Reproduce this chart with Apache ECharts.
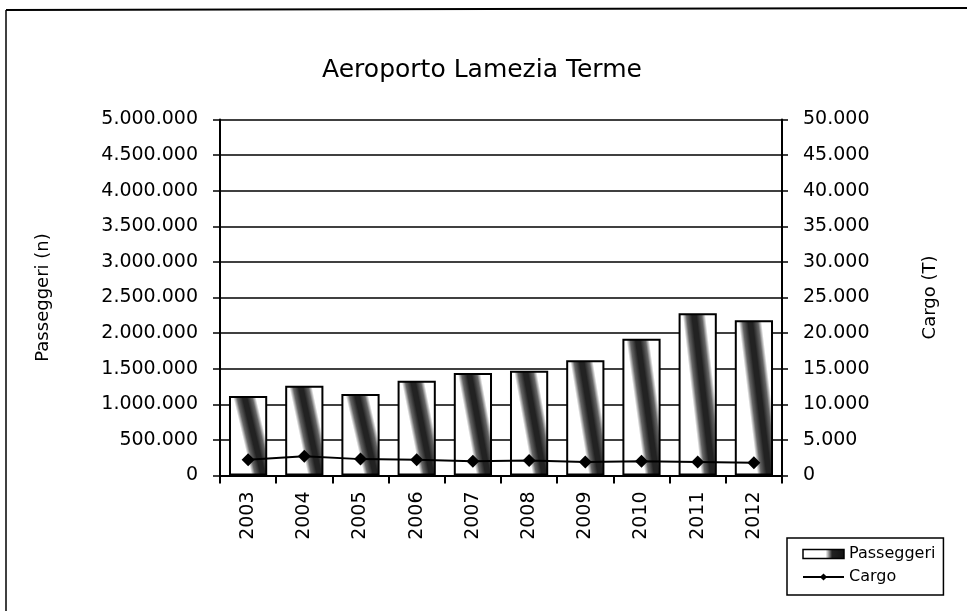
<!DOCTYPE html>
<html>
<head>
<meta charset="utf-8">
<script src="https://cdn.jsdelivr.net/npm/echarts@6/dist/echarts.min.js"></script>
<style>html,body{margin:0;padding:0;background:#fff;}#c{width:967px;height:611px;}</style>
</head>
<body>
<div id="c"></div>
<script>
const years = ['2003','2004','2005','2006','2007','2008','2009','2010','2011','2012'];
const passeggeri = [1117000,1260000,1145000,1330000,1440000,1470000,1620000,1920000,2280000,2180000];
const cargo = [2200,2700,2300,2200,2000,2100,1900,2000,1900,1800];
const leftTicks = {min:0, max:5000000, interval:500000};
const rightTicks = {min:0, max:50000, interval:5000};

function dots(v){ return String(v).replace(/\B(?=(\d{3})+(?!\d))/g,'.'); }
const FONT = 'DejaVu Sans';

// texture: dark diagonal streak inside each bar (top-left to bottom-right)
function streak(value){
  const w = 1, h = (value/leftTicks.max)*356/38; // bar aspect ratio (height/width)
  const L = Math.sqrt(h*h + 0.25*w*w);
  const n = [h/L, -0.5*w/L];
  const c0 = [0.4*w, 0];
  const corners = [[0,0],[w,0],[0,h],[w,h]];
  let D = 0;
  corners.forEach(p=>{D=Math.max(D,Math.abs((p[0]-c0[0])*n[0]+(p[1]-c0[1])*n[1]));});
  const S = [c0[0]-D*n[0], c0[1]-D*n[1]], E = [c0[0]+D*n[0], c0[1]+D*n[1]];
  const half = (0.2*w*h/L)/(2*D);
  return {type:'linear',x:S[0]/w,y:S[1]/h,x2:E[0]/w,y2:E[1]/h,colorStops:[
    {offset:0,color:'#fff'},
    {offset:Math.max(0,0.5-half*1.5),color:'#fff'},
    {offset:0.5-half,color:'#666'},
    {offset:0.5-half*0.3,color:'#222'},
    {offset:0.5+half*0.3,color:'#222'},
    {offset:0.5+half,color:'#666'},
    {offset:Math.min(1,0.5+half*1.5),color:'#fff'},
    {offset:1,color:'#fff'}]};
}

const chart = echarts.init(document.getElementById('c'));
chart.setOption({
  animation:false,
  backgroundColor:'#fff',
  textStyle:{fontFamily:FONT,color:'#000'},
  title:{text:'Aeroporto Lamezia Terme',left:477,top:53,textAlign:'center',
    textStyle:{fontFamily:FONT,fontSize:25,fontWeight:'normal',color:'#000'}},
  graphic:[
    {type:'line',shape:{x1:6,y1:10,x2:967,y2:8},style:{stroke:'#000',lineWidth:2}},
    {type:'line',shape:{x1:6,y1:10,x2:6,y2:611},style:{stroke:'#000',lineWidth:1.5}}
  ],
  legend:{orient:'vertical',left:787,top:538,itemGap:7,itemWidth:41,itemHeight:9,
    padding:[8,8,10,15],borderColor:'#000',borderWidth:1.5,
    textStyle:{fontFamily:FONT,fontSize:16,color:'#000'},
    data:[{name:'Passeggeri',icon:'rect',itemStyle:{color:{type:'linear',x:0,y:0,x2:1,y2:0,colorStops:[
      {offset:0,color:'#fff'},{offset:0.55,color:'#fff'},{offset:0.7,color:'#222'},{offset:1,color:'#111'}]},
      borderColor:'#000',borderWidth:1.5}},{name:'Cargo'}]},
  grid:{left:220,right:185,top:119.5,bottom:135.5},
  xAxis:{type:'category',data:years,
    axisLine:{lineStyle:{color:'#000',width:2}},
    axisTick:{show:true,length:8,lineStyle:{color:'#000',width:2}},
    axisLabel:{rotate:90,fontFamily:FONT,fontSize:19,color:'#000',margin:16}},
  yAxis:[
    {type:'value',min:leftTicks.min,max:leftTicks.max,interval:leftTicks.interval,
      name:'Passeggeri (n)',nameLocation:'middle',nameGap:168,nameRotate:90,
      nameTextStyle:{fontFamily:FONT,fontSize:18,color:'#000'},
      axisLine:{show:true,lineStyle:{color:'#000',width:2}},
      axisTick:{show:true,length:7,lineStyle:{color:'#000',width:1.5}},
      splitLine:{lineStyle:{color:'#000',width:1.5}},
      axisLabel:{formatter:dots,fontFamily:FONT,fontSize:19,color:'#000',margin:22}},
    {type:'value',min:rightTicks.min,max:rightTicks.max,interval:rightTicks.interval,
      name:'Cargo (T)',nameLocation:'middle',nameGap:139,nameRotate:90,
      nameTextStyle:{fontFamily:FONT,fontSize:18,color:'#000'},
      axisLine:{show:true,lineStyle:{color:'#000',width:2}},
      axisTick:{show:true,length:6,lineStyle:{color:'#000',width:1.5}},
      splitLine:{show:false},
      axisLabel:{formatter:dots,fontFamily:FONT,fontSize:19,color:'#000',margin:21}}
  ],
  series:[
    {name:'Passeggeri',type:'bar',barWidth:'68%',
      data:passeggeri.map(v=>({value:v,itemStyle:{color:streak(v)}})),
      itemStyle:{color:'#fff',borderColor:'#000',borderWidth:2}},
    {name:'Cargo',type:'line',yAxisIndex:1,data:cargo,symbol:'diamond',symbolSize:13,
      lineStyle:{color:'#000',width:2},itemStyle:{color:'#000'}}
  ]
});
</script>
</body>
</html>
